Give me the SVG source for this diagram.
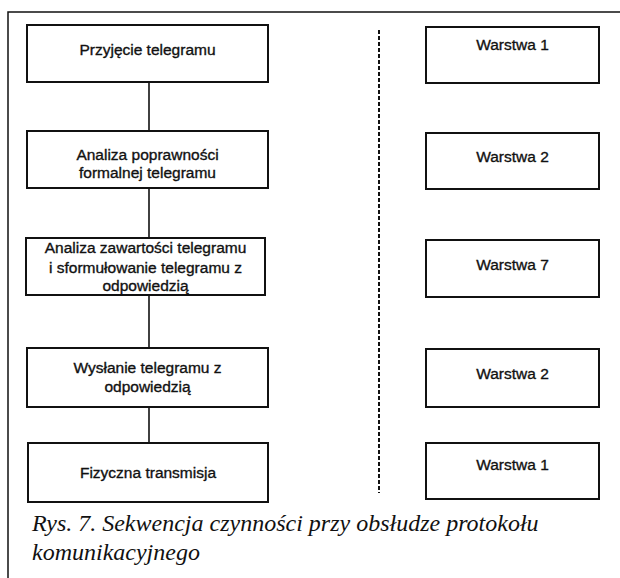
<svg xmlns="http://www.w3.org/2000/svg" width="620" height="578" viewBox="0 0 620 578">
<style>
  .box { fill: #ffffff; stroke: #111111; stroke-width: 2; }
  .lbl { font-family: "Liberation Sans", Arial, sans-serif; font-size: 15.5px; fill: #111111; stroke: #111111; stroke-width: 0.35; text-anchor: middle; }
  .conn { stroke: #111111; stroke-width: 1.6; fill: none; }
  .dash { stroke: #111111; stroke-width: 2; stroke-dasharray: 4 2; fill: none; }
  .frame { stroke: #111111; stroke-width: 1.5; fill: none; }
  .cap { font-family: "Liberation Serif", "Times New Roman", serif; font-style: italic; font-size: 24px; fill: #111111; }
</style>
<rect x="0" y="0" width="620" height="578" fill="#ffffff"/>
<g id="frame">
  <path class="frame" d="M8 578 V12 H620"/>
</g>
<g id="connectors">
  <line class="conn" x1="149" y1="82" x2="149" y2="131"/>
  <line class="conn" x1="149" y1="188" x2="149" y2="238"/>
  <line class="conn" x1="149" y1="295" x2="149" y2="348"/>
  <line class="conn" x1="149" y1="407" x2="149" y2="443"/>
  <line class="dash" x1="379" y1="30" x2="379" y2="493"/>
</g>
<g id="n1">
  <rect class="box" x="27" y="25" width="241" height="57"/>
  <text class="lbl" x="147.5" y="55">Przyjęcie telegramu</text>
</g>
<g id="n2">
  <rect class="box" x="27" y="131" width="241" height="57"/>
  <text class="lbl" x="147.5" y="160">Analiza poprawności</text>
  <text class="lbl" x="147.5" y="178">formalnej telegramu</text>
</g>
<g id="n3">
  <rect class="box" x="26" y="238" width="239" height="57"/>
  <text class="lbl" x="145.5" y="253">Analiza zawartości telegramu</text>
  <text class="lbl" x="145.5" y="273">i sformułowanie telegramu z</text>
  <text class="lbl" x="145.5" y="291">odpowiedzią</text>
</g>
<g id="n4">
  <rect class="box" x="27" y="348" width="241" height="59"/>
  <text class="lbl" x="147.5" y="373">Wysłanie telegramu z</text>
  <text class="lbl" x="147.5" y="392">odpowiedzią</text>
</g>
<g id="n5">
  <rect class="box" x="28" y="443" width="240" height="59"/>
  <text class="lbl" x="148" y="478">Fizyczna transmisja</text>
</g>
<g id="w1">
  <rect class="box" x="426" y="27" width="173" height="56"/>
  <text class="lbl" x="512.5" y="50">Warstwa 1</text>
</g>
<g id="w2">
  <rect class="box" x="426" y="133" width="173" height="56"/>
  <text class="lbl" x="512.5" y="162">Warstwa 2</text>
</g>
<g id="w3">
  <rect class="box" x="426" y="240" width="173" height="57"/>
  <text class="lbl" x="512.5" y="270">Warstwa 7</text>
</g>
<g id="w4">
  <rect class="box" x="426" y="349" width="173" height="58"/>
  <text class="lbl" x="512.5" y="379">Warstwa 2</text>
</g>
<g id="w5">
  <rect class="box" x="426" y="443" width="173" height="56"/>
  <text class="lbl" x="512.5" y="470">Warstwa 1</text>
</g>
<g id="caption">
  <text class="cap" x="32" y="531">Rys. 7. Sekwencja czynności przy obsłudze protokołu</text>
  <text class="cap" x="32" y="560">komunikacyjnego</text>
</g>
</svg>
